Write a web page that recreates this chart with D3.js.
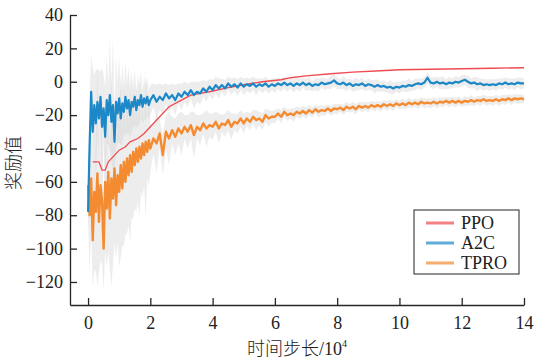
<!DOCTYPE html>
<html>
<head>
<meta charset="utf-8">
<script src="https://cdn.jsdelivr.net/npm/d3@7"></script>
<style>
  body { margin: 0; background: #fff; }
  svg text { font-family: "Liberation Serif", "Times New Roman", "Noto Sans CJK SC", serif; }
</style>
</head>
<body>
<script>
// time steps (x 10^4): dense at the start, then every 0.1
var steps = d3.range(0, 40).map(function(i){ return i * 0.05; })
              .concat(d3.range(0, 121).map(function(i){ return 2 + i * 0.1; }));

var a2c = [
  -78,-38,-6,-30,-14,-25,-12,-22,-9,-27,
  -16,-33,-11,-20,-8,-24,-14,-36,-12,-19,
  -10,-22,-13,-18,-9,-16,-11,-20,-12,-15,
  -9,-17,-11,-14,-8,-15,-10,-13,-9,-14,
  -11,-8,-12,-9,-11,-7,-10,-8,-11,-7,
  -9,-6,-8,-5,-8,-6,-7,-4,-6,-3,
  -5,-2,-4,-2,-4,-1,-3,-1.5,-3.5,-1,
  -3,-1.5,-2.5,-1,-3,-1.5,-2.5,-1,-3,-1.5,
  -2.5,-1,-2,-0.5,-2,-1,-2.5,-1,-2,-0.5,
  -2,-1,-2.5,-1.5,-2,-0.5,-1.5,-1,-0.5,0.8,
  -1,-1.5,-0.5,-2,-1,-2.5,-1.5,-2,-1,-2.5,
  -1.5,-2,-3,-2,-3,-2.5,-3.5,-3,-4,-3,
  -3.5,-2.5,-3,-2,-2.5,-1.5,-1,-1.5,-0.5,2.4,
  -0.5,-1,0,-1,-0.5,-1.5,-0.5,-1,0,-0.5,
  0.5,1.2,0,-1,-0.5,-1.5,-1,-2,-1.5,-2,
  -1.5,-2,-1,-1.5,-0.5,-1.5,-1,-1.5,-0.5,-1,
  -1
];
var a2cSpread = [
  10,30,22,38,18,32,20,28,16,35,
  20,30,26,18,34,22,40,20,28,18,
  26,16,24,14,22,15,20,13,18,12,
  17,11,15,12,14,10,13,10,12,9,
  9,7,10,8,9,6,8,7,9,6,
  8,6,7,5,8,6,7,5,6,5,
  6,5,6,4,5,4,5,4,5,4,
  5,4,4.5,4,5,3.5,4.5,4,4,3.5,
  4,3.5,4,3.5,4,3,4,3.5,4,3,
  3.5,4,3,3.5,4,3,3.5,3,4,3.5,
  3.5,3,4,3.5,3,3.5,4,3,3.5,3,
  3.5,3,4,3.5,3,3.5,3,4,3.5,3,
  3.5,3,3.5,4,3,3.5,3,3.5,3,3.5,
  3,3.5,3,3.5,4,3,3.5,3,3.5,3,
  3.5,3,3.5,3,3.5,4,3,3.5,3,3.5,
  3,3.5,3,3.5,3,3.5,3,3.5,3,3.5,
  3
];

var tpro = [
  -62,-80,-58,-95,-66,-78,-55,-84,-62,-72,
  -100,-60,-76,-54,-82,-58,-70,-52,-74,-56,
  -66,-50,-64,-48,-60,-46,-56,-44,-54,-42,
  -50,-40,-48,-39,-46,-37,-44,-36,-42,-35,
  -40,-34,-37,-31,-44,-30,-34,-29,-33,-28,
  -31,-27,-30,-26,-32,-27,-29,-25,-28,-26,
  -27,-24,-28,-25,-26,-23,-27,-24,-25,-22,
  -25,-22,-24,-21,-23,-22,-24,-20,-22,-21,
  -21,-19,-21,-18,-20,-19,-20,-18,-19,-17.5,
  -19,-17,-18.5,-16.5,-18,-17,-17.5,-16,-17.5,-16,
  -16.5,-15.5,-17,-15,-16,-15,-16.5,-14.5,-15.5,-14.5,
  -15.5,-14,-15,-14,-15,-13.5,-14.5,-13.5,-14.5,-13,
  -14,-13,-14,-12.5,-13.5,-12.5,-13.5,-12,-13,-12.5,
  -13,-12,-13,-12,-12.5,-11.5,-12.5,-11.5,-12.5,-11.5,
  -12.5,-11.5,-12,-11,-12,-11,-11.5,-10.5,-11.5,-11,
  -11.5,-10.5,-11.5,-10.5,-11,-10,-11,-10,-10.5,-10,
  -10.5
];
var tproSpread = [
  20,35,30,28,48,35,68,30,45,38,
  25,42,35,48,30,65,40,45,32,40,
  45,55,35,50,32,45,30,52,28,40,
  26,38,24,42,20,32,18,45,16,28,
  14,9,18,8,12,10,16,8,11,9,
  13,7,10,8,14,7,9,6,11,7,
  8,6,9,5,7,6,8,5,6,5,
  6,4,5,4,6,4,5,4,5,3.5,
  4,3,4,3,3.5,3,4,3,3.5,3,
  3.5,3,3,2.5,3.5,3,3,2.5,3,3,
  3,2.5,3,3,2.5,3,3,2.5,3,2.5,
  3,2.5,3,2.5,3,2.5,3,2.5,3,2.5,
  2.5,3,2.5,3,2.5,2.5,3,2.5,3,2.5,
  3,2.5,3,2.5,3,2.5,3,2.5,3,2.5,
  2.5,3,2.5,3,2.5,2.5,3,2.5,3,2.5,
  3,2.5,3,2.5,3,2.5,3,2.5,3,2.5,
  2.5
];

var ppoSteps = [0.15,0.35,0.45,0.55,0.65,0.8,1.0,1.2,1.35,1.6,1.8,2.0,2.3,2.6,3.0,3.3,3.6,3.9,4.5,5.0,5.6,6.2,6.5,7.0,7.8,8.5,9.4,10,11,12,13,14];
var ppo      = [-48,-48,-53,-53,-48,-45,-41,-39,-36,-34,-31,-27,-21,-15,-11,-8,-7,-6,-3.5,-1.8,0,1.2,2.4,3.5,4.8,5.8,6.6,7.2,7.5,7.8,8.1,8.4];

var xTicks = [0,2,4,6,8,10,12,14];
var yTicks = [-120,-100,-80,-60,-40,-20,0,20,40];

var names  = ["PPO","A2C","TPRO"];
var colors = ["#ee4b52","#1c88c7","#f58b30"];

var w = 536, h = 360;

var svg = d3.select("body").append("svg")
            .attr("width", w)
            .attr("height", h);

var x = d3.scaleLinear().domain([-0.58, 14]).range([70, 524]);
var y = d3.scaleLinear().domain([-133.8, 40]).range([305, 15]);

// grey spread bands
function band(vals, spread){
  return d3.area()
    .x(function(d, i){ return x(steps[i]); })
    .y0(function(d, i){ return y(vals[i] - spread[i]); })
    .y1(function(d, i){ return y(vals[i] + spread[i]); });
}

svg.append("path")
   .attr("d", band(tpro, tproSpread)(tpro))
   .style("fill", "#d2d2d2")
   .style("opacity", 0.4);

svg.append("path")
   .attr("d", band(a2c, a2cSpread)(a2c))
   .style("fill", "#d2d2d2")
   .style("opacity", 0.4);

var line = d3.line()
  .x(function(d, i){ return x(steps[i]); })
  .y(function(d){ return y(d); });

svg.append("path")
   .attr("d", line(tpro))
   .style("fill", "none")
   .style("stroke", colors[2])
   .style("stroke-width", 2.4)
   .style("stroke-linejoin", "round");

svg.append("path")
   .attr("d", d3.line()
      .x(function(d, i){ return x(ppoSteps[i]); })
      .y(function(d){ return y(d); })(ppo))
   .style("fill", "none")
   .style("stroke", colors[0])
   .style("stroke-width", 1.3);

svg.append("path")
   .attr("d", line(a2c))
   .style("fill", "none")
   .style("stroke", colors[1])
   .style("stroke-width", 2.2)
   .style("stroke-linejoin", "round");

// axes
var xAxis = d3.axisBottom(x).tickValues(xTicks).tickSize(-7).tickSizeOuter(0).tickPadding(11);
var yAxis = d3.axisLeft(y).tickValues(yTicks).tickSize(-7).tickSizeOuter(0).tickPadding(7);

var gx = svg.append("g").attr("transform", "translate(0,305)").call(xAxis);
var gy = svg.append("g").attr("transform", "translate(70,0)").call(yAxis);

[gx, gy].forEach(function(g){
  g.select(".domain").style("stroke", "#262626").style("stroke-width", 1.3);
  g.selectAll(".tick line").style("stroke", "#262626").style("stroke-width", 1.3);
  g.selectAll(".tick text")
   .style("font-family", "'Liberation Serif', 'Times New Roman', serif")
   .style("font-size", "18px")
   .style("fill", "#222");
});

// axis titles
var xl = svg.append("text")
   .attr("x", 297)
   .attr("y", 355)
   .attr("text-anchor", "middle")
   .style("font-size", "18px")
   .style("fill", "#222");
xl.append("tspan").style("font-family", "'Noto Sans CJK SC', sans-serif").style("font-weight", 300).text("时间步长");
xl.append("tspan").text("/10");
xl.append("tspan").attr("dy", -8).style("font-size", "10px").text("4");

svg.append("text")
   .attr("transform", "translate(20,163) rotate(-90)")
   .attr("text-anchor", "middle")
   .style("font-family", "'Noto Sans CJK SC', sans-serif")
   .style("font-weight", 300)
   .style("font-size", "18px")
   .style("fill", "#222")
   .text("奖励值");

// legend
var lg = svg.append("g");
lg.append("rect")
  .attr("x", 414).attr("y", 210)
  .attr("width", 105).attr("height", 64)
  .style("fill", "#fff")
  .style("stroke", "#222")
  .style("stroke-width", 1);

names.forEach(function(n, i){
  var ly = 223 + i * 20;
  lg.append("line")
    .attr("x1", 426).attr("x2", 454)
    .attr("y1", ly).attr("y2", ly)
    .style("stroke", colors[i])
    .style("stroke-width", 3)
    .style("opacity", 0.7);
  lg.append("text")
    .attr("x", 461).attr("y", ly)
    .attr("dy", "0.35em")
    .style("font-size", "18px")
    .style("fill", "#222")
    .text(n);
});
</script>
</body>
</html>
